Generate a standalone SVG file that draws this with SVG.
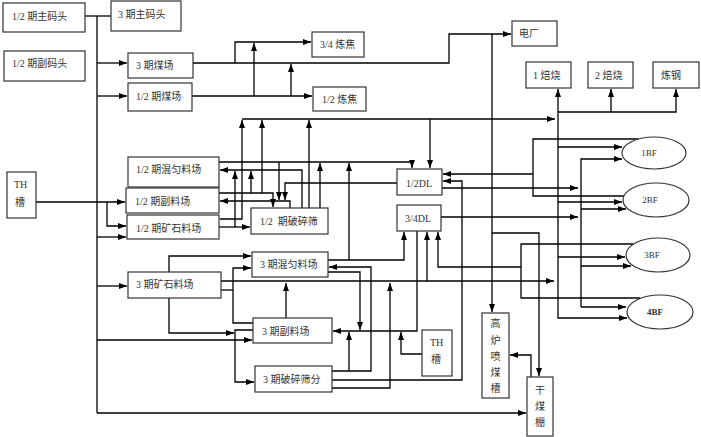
<svg xmlns="http://www.w3.org/2000/svg" width="701" height="437" viewBox="0 0 701 437">
<style>
.b{fill:#fff;stroke:#333;stroke-width:1.2}
.t{font-family:"Liberation Serif","Noto Sans CJK SC",serif;font-size:10px;fill:#333}
.m{text-anchor:middle}
.c{fill:none;stroke:#000;stroke-width:1.3}
.a{marker-end:url(#ar)}
</style>
<defs>
<marker id="ar" markerUnits="userSpaceOnUse" markerWidth="8" markerHeight="6" refX="8" refY="3" orient="auto"><path d="M0,0 L8,3 L0,6 z" fill="#000"/></marker>
</defs>
<rect width="701" height="437" fill="#fff"/>
<g id="connectors">
<path class="c" d="M85,16 H111"/>
<path class="c" d="M97,16 V413"/>
<path class="c a" d="M97,413 H526"/>
<path class="c a" d="M97,63 H127"/>
<path class="c a" d="M97,96 H127"/>
<path class="c a" d="M193,63 H449 V34 H511"/>
<path class="c a" d="M235,63 V42 H311"/>
<path class="c a" d="M192,96 H312"/>
<path class="c a" d="M254,96 V43"/>
<path class="c a" d="M291,96 V64"/>
<path class="c a" d="M492,34 V312"/>
<path class="c a" d="M242,119 H555"/>
<path class="c a" d="M220,219 H242 V120"/>
<path class="c a" d="M262,193 V120"/>
<path class="c a" d="M309,208 V120"/>
<path class="c a" d="M430,119 V168"/>
<path class="c a" d="M558,112 V89"/>
<path class="c a" d="M558,112 V318 H627"/>
<path class="c a" d="M558,112 H676 V89"/>
<path class="c a" d="M611,112 V89"/>
<path class="c a" d="M558,147 H622"/>
<path class="c a" d="M581,307 V159 H622"/>
<path class="c a" d="M558,202 H622"/>
<path class="c a" d="M581,209 H626"/>
<path class="c a" d="M558,257 H625"/>
<path class="c a" d="M581,266 H631"/>
<path class="c a" d="M581,307 H626"/>
<path class="c a" d="M442,188 H578"/>
<path class="c a" d="M441,217 H578"/>
<path class="c" d="M639,139 H533 V196 H624"/>
<path class="c a" d="M533,174 H443"/>
<path class="c" d="M633,244 H521 V298 H640"/>
<path class="c a" d="M521,267 H438 V232"/>
<path class="c a" d="M492,233 H539 V376"/>
<path class="c a" d="M531,377 V355 H510"/>
<path class="c a" d="M221,281 H554"/>
<path class="c a" d="M427,281 V232"/>
<path class="c a" d="M286,318 V283"/>
<path class="c a" d="M332,388 H390 V283"/>
<path class="c a" d="M332,380 H462 V181 H443"/>
<path class="c a" d="M332,371 H371 V267 H329"/>
<path class="c a" d="M349,371 V332"/>
<path class="c a" d="M328,272 H360 V330"/>
<path class="c a" d="M417,231 V331 H333"/>
<path class="c a" d="M422,354 H401 V332"/>
<path class="c a" d="M328,260 H404 V232"/>
<path class="c a" d="M349,260 V163"/>
<path class="c a" d="M219,162 H412 V168"/>
<path class="c a" d="M320,208 V163"/>
<path class="c a" d="M302,208 V170 H220"/>
<path class="c a" d="M290,208 V201 H220"/>
<path class="c a" d="M219,193 H273 V207"/>
<path class="c a" d="M251,193 V171"/>
<path class="c a" d="M235,227 V171"/>
<path class="c a" d="M219,227 H250"/>
<path class="c a" d="M279,162 V200"/>
<path class="c a" d="M397,183 H285 V200"/>
<path class="c a" d="M36,202 H125"/>
<path class="c a" d="M107,202 V226 H126"/>
<path class="c a" d="M97,237 H126"/>
<path class="c a" d="M97,286 H127"/>
<path class="c a" d="M97,340 H252"/>
<path class="c a" d="M169,272 V256 H251"/>
<path class="c" d="M221,290 H233"/>
<path class="c a" d="M253,323 H233 V268 H251"/>
<path class="c a" d="M169,298 V333 H234"/>
<path class="c a" d="M253,330 H235 V382 H254"/>
</g>
<g id="n1"><rect class="b" x="3" y="3" width="82" height="29"/><text class="t" x="12" y="20">1/2 期主码头</text></g>
<g id="n2"><rect class="b" x="111" y="1" width="70" height="30"/><text class="t" x="118" y="18">3 期主码头</text></g>
<g id="n3"><rect class="b" x="4" y="51" width="81" height="30"/><text class="t" x="12" y="67">1/2 期副码头</text></g>
<g id="n4"><rect class="b" x="128" y="53" width="65" height="25"/><text class="t" x="136" y="69">3 期煤场</text></g>
<g id="n5"><rect class="b" x="128" y="83" width="64" height="28"/><text class="t" x="136" y="100">1/2 期煤场</text></g>
<g id="n6"><rect class="b" x="312" y="32" width="52" height="25"/><text class="t" x="320" y="48">3/4 炼焦</text></g>
<g id="n7"><rect class="b" x="313" y="87" width="53" height="24"/><text class="t" x="322" y="103">1/2 炼焦</text></g>
<g id="n8"><rect class="b" x="512" y="21" width="45" height="25"/><text class="t" x="519" y="37">电厂</text></g>
<g id="n9"><rect class="b" x="526" y="62" width="45" height="26"/><text class="t" x="533" y="79">1 焙烧</text></g>
<g id="n10"><rect class="b" x="588" y="62" width="45" height="26"/><text class="t" x="595" y="79">2 焙烧</text></g>
<g id="n11"><rect class="b" x="653" y="62" width="46" height="26"/><text class="t" x="661" y="79">炼钢</text></g>
<g id="n12"><rect class="b" x="7" y="172" width="29" height="46"/><text class="t" x="14" y="188">TH</text><text class="t" x="15" y="206">槽</text></g>
<g id="n13"><rect class="b" x="128" y="157" width="91" height="30"/><text class="t" x="136" y="173">1/2 期混匀料场</text></g>
<g id="n14"><rect class="b" x="126" y="188" width="93" height="25"/><text class="t" x="135" y="205">1/2 期副料场</text></g>
<g id="n15"><rect class="b" x="127" y="215" width="92" height="24"/><text class="t" x="136" y="232">1/2 期矿石料场</text></g>
<g id="n16"><rect class="b" x="251" y="208" width="77" height="26"/><text class="t" x="260" y="225" xml:space="preserve">1/2  期破碎筛</text></g>
<g id="n17"><rect class="b" x="397" y="169" width="45" height="26"/><text class="t" x="406" y="187">1/2DL</text></g>
<g id="n18"><rect class="b" x="397" y="205" width="44" height="26"/><text class="t" x="405" y="222">3/4DL</text></g>
<g id="n19"><rect class="b" x="252" y="252" width="76" height="25"/><text class="t" x="260" y="268">3 期混匀料场</text></g>
<g id="n20"><rect class="b" x="128" y="272" width="93" height="26"/><text class="t" x="136" y="288">3 期矿石料场</text></g>
<g id="n21"><rect class="b" x="253" y="318" width="79" height="25"/><text class="t" x="262" y="335">3 期副料场</text></g>
<g id="n22"><rect class="b" x="255" y="366" width="77" height="26"/><text class="t" x="263" y="383">3 期破碎筛分</text></g>
<g id="n23"><rect class="b" x="422" y="330" width="30" height="46"/><text class="t" x="430" y="346">TH</text><text class="t" x="431" y="363">槽</text></g>
<g id="n24"><rect class="b" x="482" y="313" width="27" height="85"/><text class="t m" x="495.5" y="327">高</text><text class="t m" x="495.5" y="344">炉</text><text class="t m" x="495.5" y="360">喷</text><text class="t m" x="495.5" y="376">煤</text><text class="t m" x="495.5" y="392">槽</text></g>
<g id="n25"><rect class="b" x="527" y="377" width="26" height="59"/><text class="t m" x="540" y="394">干</text><text class="t m" x="540" y="410">煤</text><text class="t m" x="540" y="426">棚</text></g>
<g id="bf1"><ellipse class="b" cx="654" cy="153" rx="32" ry="16"/><text class="t m" x="649" y="156" style="font-size:9px">1BF</text></g>
<g id="bf2"><ellipse class="b" cx="656" cy="200" rx="33" ry="17"/><text class="t m" x="650" y="203" style="font-size:9px">2BF</text></g>
<g id="bf3"><ellipse class="b" cx="658" cy="255" rx="32" ry="17"/><text class="t m" x="652" y="258" style="font-size:9px">3BF</text></g>
<g id="bf4"><ellipse class="b" cx="660" cy="312" rx="33" ry="17"/><text class="t m" x="655" y="315" style="font-size:9px;font-weight:bold">4BF</text></g>
</svg>
